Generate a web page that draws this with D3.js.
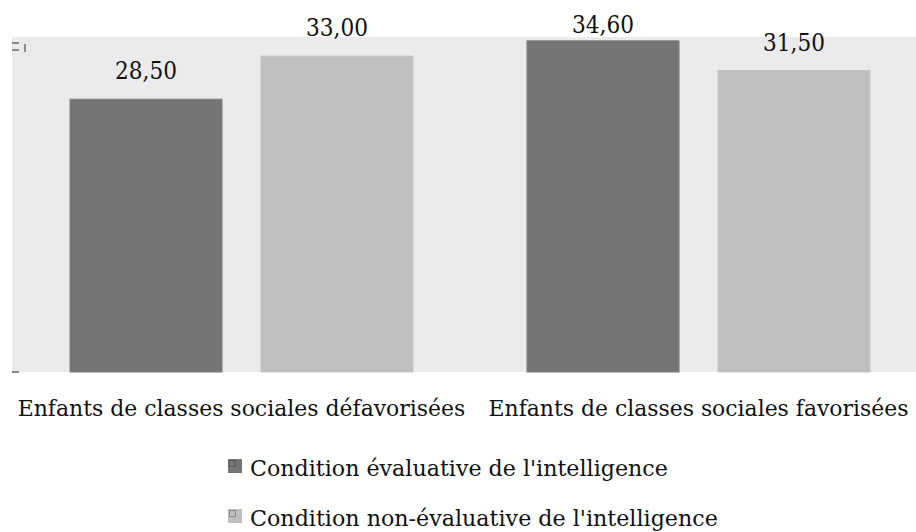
<!DOCTYPE html>
<html>
<head>
<meta charset="utf-8">
<script src="https://cdn.jsdelivr.net/npm/d3@7"></script>
<style>
  html, body { margin: 0; padding: 0; background: #ffffff; }
  svg { display: block; }
  text { font-family: "DejaVu Serif", "Liberation Serif", serif; fill: #111; }
</style>
</head>
<body>
<svg id="chart" width="916" height="532"></svg>
<script>
// ---- data ----
const categories = ["Enfants de classes sociales défavorisées", "Enfants de classes sociales favorisées"];
const seriesNames = ["Condition évaluative de l'intelligence", "Condition non-évaluative de l'intelligence"];
const evaluative = [28.5, 34.6];
const nonEvaluative = [33.0, 31.5];
const valueLabels = [["28,50", "34,60"], ["33,00", "31,50"]];
const yDomain = [0, 35];

// ---- layout ----
const W = 916, H = 532;
const plot = { left: 12, right: 916, top: 37, bottom: 372 };
const colors = ["#757575", "#bfbfbf"];

const svg = d3.select("#chart");

// place a text so that it spans a target width (horizontal condense via transform)
function fitText(sel, anchorX, baseY, targetW, anchor) {
  sel.each(function (d, i) {
    const node = this;
    const tx = typeof anchorX === "function" ? anchorX(d, i) : anchorX;
    const ty = typeof baseY === "function" ? baseY(d, i) : baseY;
    const tw = typeof targetW === "function" ? targetW(d, i) : targetW;
    const natural = node.getComputedTextLength();
    const sx = natural > 0 ? tw / natural : 1;
    d3.select(node).attr("x", 0).attr("y", 0).attr("text-anchor", anchor)
      .attr("transform", `translate(${tx},${ty}) scale(${sx},1)`);
  });
}

const rows = categories.map((c, i) => ({ cat: c, vals: [evaluative[i], nonEvaluative[i]], labels: [valueLabels[0][i], valueLabels[1][i]] }));

const x0 = d3.scaleBand().domain(categories).range([13, 927]).paddingInner(0).paddingOuter(0);
const x1 = d3.scaleBand().domain(d3.range(seriesNames.length)).range([57, x0.bandwidth() - 57]).paddingInner(0.204).paddingOuter(0);
const y = d3.scaleLinear().domain(yDomain).range([plot.bottom, plot.top]);

// plot background
svg.append("rect")
  .attr("x", plot.left).attr("y", plot.top)
  .attr("width", plot.right - plot.left).attr("height", plot.bottom - plot.top)
  .attr("fill", "#ebebeb");

// clipped axis remnants on the left edge
const ax = svg.append("g").attr("fill", "#8a8a8a");
ax.append("rect").attr("x", 12).attr("y", 42).attr("width", 7).attr("height", 2);
ax.append("rect").attr("x", 12).attr("y", 49).attr("width", 7).attr("height", 2);
ax.append("rect").attr("x", 24).attr("y", 44).attr("width", 2).attr("height", 8);
ax.append("rect").attr("x", 12).attr("y", y(0) - 1).attr("width", 7).attr("height", 2);

// bars
const groups = svg.append("g").selectAll("g").data(rows).join("g")
  .attr("transform", d => `translate(${x0(d.cat)},0)`);

groups.selectAll("rect").data(d => d.vals.map((v, k) => ({ v, k }))).join("rect")
  .attr("x", d => x1(d.k))
  .attr("y", d => y(d.v))
  .attr("width", x1.bandwidth())
  .attr("height", d => y(0) - y(d.v))
  .attr("fill", d => colors[d.k])
  .attr("stroke", d => d.k === 0 ? "#7d7d7d" : "#c6c6c6")
  .attr("stroke-width", 1);

// value labels
const vals = groups.selectAll("text.val").data(d => d.vals.map((v, k) => ({ v, k, t: d.labels[k] }))).join("text")
  .attr("class", "val")
  .attr("font-size", 24)
  .text(d => d.t);
fitText(vals, d => x1(d.k) + x1.bandwidth() / 2, d => Math.max(y(d.v) - 20, 33), 62, "middle");

// category labels
const catWidths = [448, 420];
const cats = svg.append("g").selectAll("text").data(categories).join("text")
  .attr("font-size", 23)
  .text(d => d);
fitText(cats, d => x0(d) + x0.bandwidth() / 2, 416, (d, i) => catWidths[i], "middle");

// legend
const legW = [418, 468];
const leg = svg.append("g").selectAll("g").data(seriesNames).join("g")
  .attr("transform", (d, i) => `translate(228,${459 + i * 50})`);
leg.append("rect").attr("x", 0).attr("y", 0).attr("width", 14).attr("height", 14)
  .attr("fill", (d, i) => colors[i]);
leg.append("rect").attr("x", 1.5).attr("y", 1.5).attr("width", 6).attr("height", 6)
  .attr("fill", (d, i) => colors[i])
  .attr("stroke", (d, i) => i === 0 ? "#5a5a5a" : "#8a8a8a").attr("stroke-width", 1);
const legT = leg.append("text")
  .attr("font-size", 23)
  .text(d => d);
fitText(legT, 22, 17, (d, i) => legW[i], "start");
</script>
</body>
</html>
